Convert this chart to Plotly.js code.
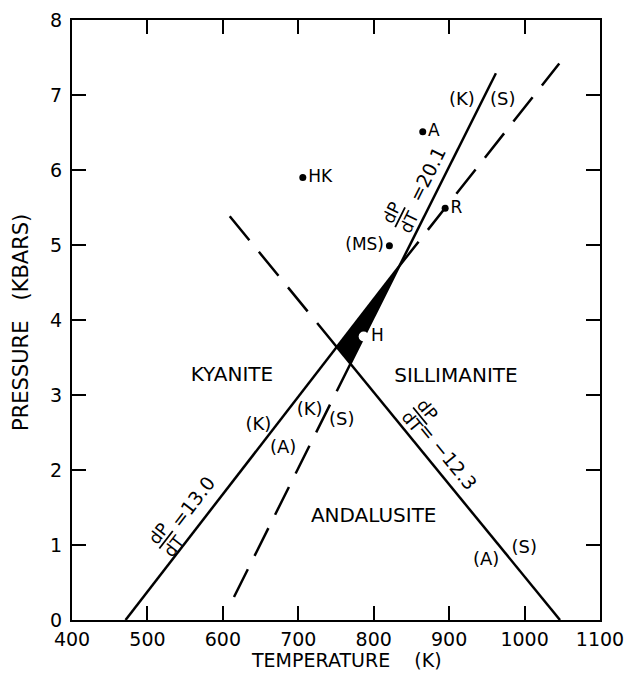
<!DOCTYPE html>
<html>
<head>
<meta charset="utf-8">
<script src="https://cdn.plot.ly/plotly-3.0.1.min.js"></script>
<style>html,body{margin:0;padding:0;background:#fff;}#chart{width:628px;height:673px;}</style>
</head>
<body>
<div id="chart"></div>
<script>
// ---- data (temperature K, pressure kbar) ----
const kyAndSolidT = [471, 834];
const kyAndSolidP = [0, 4.72];
const kyAndDashT = [834, 1046];
const kyAndDashP = [4.72, 7.42];

const kySilSolidT = [962, 769.3];
const kySilSolidP = [7.29, 3.42];
const kySilDashT = [769.3, 607];
const kySilDashP = [3.42, 0.15];

const andSilSolidT = [1047, 751];
const andSilSolidP = [0, 3.64];
const andSilDashT = [751, 607];
const andSilDashP = [3.64, 5.41];

const triT = [751, 834, 769.3, 751];
const triP = [3.64, 4.72, 3.42, 3.64];

const ptLabels = ['HK', 'A', 'R'];
const ptT = [706, 865, 894.7];
const ptP = [5.9, 6.51, 5.49];
const msLabel = ['(MS)'];
const msT = [820.8];
const msP = [4.99];
const hLabel = ['H'];
const hT = [786.7];
const hP = [3.78];

const regionText = ['KYANITE', 'SILLIMANITE', 'ANDALUSITE'];
const regionT = [612, 909, 800];
const regionP = [3.25, 3.24, 1.38];

const tagText = ['(K)', '(A)', '(K)', '(S)', '(A)', '(S)', '(K)', '(S)'];
const tagT = [647, 680, 715, 757.7, 949, 999.5, 916.8, 971];
const tagP = [2.6, 2.29, 2.8, 2.66, 0.8, 0.96, 6.93, 6.93];

// slope labels: fraction centre, angle (deg, counter-clockwise), value text and its position
const slopeFracT = [524.7, 835, 861.5];
const slopeFracP = [1.07, 5.37, 2.72];
const slopeAngle = [52.3, 63.4, -50.7];
const slopeValText = ['=13.0', '=20.1', '= \u221212.3'];
const slopeValT = [560, 870, 898];
const slopeValP = [1.57, 5.94, 2.19];

const xTickVals = [400, 500, 600, 700, 800, 900, 1000, 1100];
const yTickVals = [0, 1, 2, 3, 4, 5, 6, 7, 8];
const xTitle = 'TEMPERATURE&nbsp;&nbsp;&nbsp;&nbsp;(K)';
const yTitle = 'PRESSURE&nbsp;&nbsp;&nbsp;(KBARS)';

// ---- build ----
const FONT = 'DejaVu Sans, Verdana, sans-serif';
const solid = {color: '#000', width: 2.5};
const dashed = {color: '#000', width: 2.5, dash: '31px,15px'};

const traces = [
  {x: triT, y: triP, mode: 'lines', fill: 'toself', fillcolor: '#000', line: {color: '#000', width: 1}},
  {x: kyAndSolidT, y: kyAndSolidP, mode: 'lines', line: solid},
  {x: kyAndDashT, y: kyAndDashP, mode: 'lines', line: dashed},
  {x: kySilSolidT, y: kySilSolidP, mode: 'lines', line: solid},
  {x: kySilDashT, y: kySilDashP, mode: 'lines', line: dashed},
  {x: andSilSolidT, y: andSilSolidP, mode: 'lines', line: solid},
  {x: andSilDashT, y: andSilDashP, mode: 'lines', line: dashed},
  {x: ptT, y: ptP, text: ptLabels, mode: 'markers+text', textposition: 'middle right',
   marker: {color: '#000', size: 7}, textfont: {family: FONT, size: 17, color: '#000'}},
  {x: msT, y: msP, text: msLabel, mode: 'markers+text', textposition: 'middle left',
   marker: {color: '#000', size: 7}, textfont: {family: FONT, size: 17, color: '#000'}},
  {x: hT, y: hP, text: hLabel, mode: 'markers+text', textposition: 'middle right',
   marker: {color: '#fff', size: 10}, textfont: {family: FONT, size: 17, color: '#000'}},
  {x: regionT, y: regionP, text: regionText, mode: 'text',
   textfont: {family: FONT, size: 20, color: '#000'}},
  {x: tagT, y: tagP, text: tagText, mode: 'text',
   textfont: {family: FONT, size: 18, color: '#000'}}
];

const annotations = [];
const shapes = [];
const d = 10, L = 11;
for (let i = 0; i < slopeFracT.length; i++) {
  const a = slopeAngle[i] * Math.PI / 180;
  const s = Math.sin(a), c = Math.cos(a);
  const base = {x: slopeFracT[i], y: slopeFracP[i], xref: 'x', yref: 'y', showarrow: false,
    textangle: -slopeAngle[i], font: {family: FONT, size: 17, color: '#000'}};
  annotations.push(Object.assign({}, base, {text: 'dP', xshift: -d * s, yshift: d * c}));
  annotations.push(Object.assign({}, base, {text: 'dT', xshift: d * s, yshift: -d * c}));
  shapes.push({type: 'line', xref: 'x', yref: 'y', xsizemode: 'pixel', ysizemode: 'pixel',
    xanchor: slopeFracT[i], yanchor: slopeFracP[i],
    x0: -L * c, x1: L * c, y0: -L * s, y1: L * s, line: {color: '#000', width: 1.8}});
  annotations.push({x: slopeValT[i], y: slopeValP[i], xref: 'x', yref: 'y', showarrow: false,
    text: slopeValText[i], textangle: -slopeAngle[i], font: {family: FONT, size: 19, color: '#000'}});
}
// axis titles as annotations for precise placement
annotations.push({xref: 'paper', yref: 'paper', x: 0.52, y: 0, yshift: -40, xanchor: 'center', yanchor: 'middle',
  showarrow: false, text: xTitle, font: {family: FONT, size: 19, color: '#000'}});
annotations.push({xref: 'paper', yref: 'paper', x: 0, y: 0.495, xshift: -51, xanchor: 'center', yanchor: 'middle',
  showarrow: false, textangle: -90, text: yTitle, font: {family: FONT, size: 21, color: '#000'}});

const axisCommon = {
  showline: true, linecolor: '#000', linewidth: 2, mirror: 'ticks',
  ticks: 'inside', ticklen: 14, tickwidth: 2, tickcolor: '#000',
  showgrid: false, zeroline: false, tickfont: {family: FONT, size: 19, color: '#000'}
};

const layout = {
  width: 628, height: 673,
  margin: {l: 72, r: 28, t: 20, b: 53},
  paper_bgcolor: '#fff', plot_bgcolor: '#fff',
  showlegend: false,
  xaxis: Object.assign({}, axisCommon, {
    range: [400, 1100], tickvals: xTickVals, ticktext: xTickVals.map(String),
    ticklabelstandoff: 1
  }),
  yaxis: Object.assign({}, axisCommon, {
    range: [0, 8], tickvals: yTickVals, ticktext: yTickVals.map(String),
    ticklabelstandoff: 4
  }),
  annotations: annotations,
  shapes: shapes
};

Plotly.newPlot('chart', traces, layout, {displayModeBar: false, staticPlot: true});
</script>
</body>
</html>
